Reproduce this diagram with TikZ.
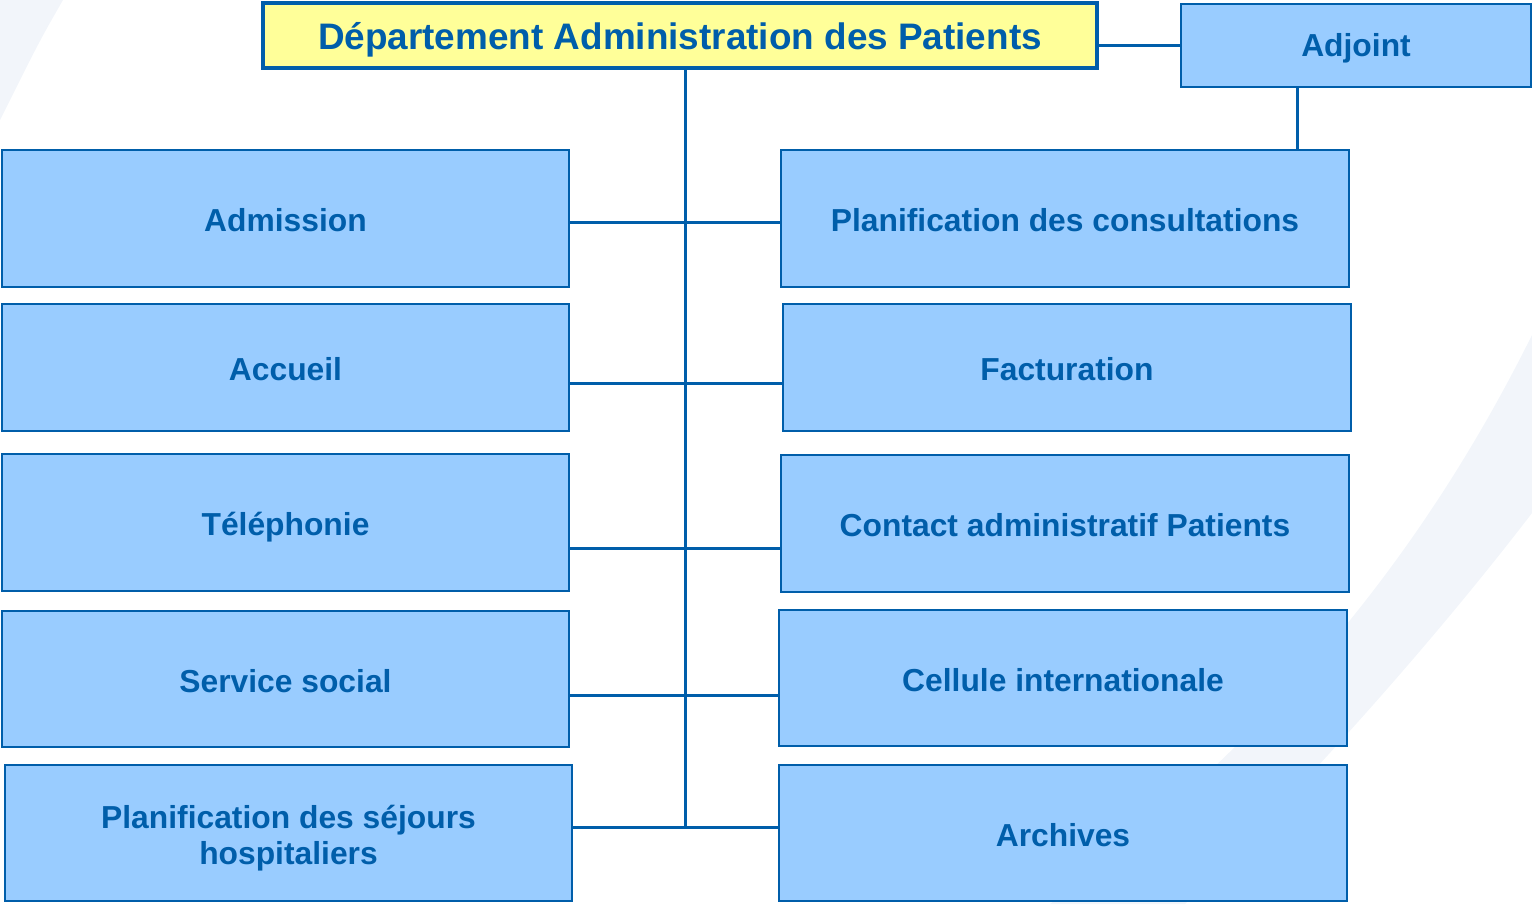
\documentclass[tikz,border=0pt]{standalone}
\usepackage{fontspec}
\setmainfont{Liberation Sans}
\usepackage{tikz}
\definecolor{boxblue}{HTML}{99CCFF}
\definecolor{linkblue}{HTML}{005EAA}
\definecolor{titleyellow}{HTML}{FFFF99}
\definecolor{swoosh}{HTML}{F2F5FA}
\tikzset{
  unit/.style={draw=linkblue, fill=boxblue, line width=0.055cm, inner sep=0pt, outer sep=0pt,
    text=linkblue, font=\fontsize{18.1}{21}\selectfont\bfseries, align=center,
    text height=19.3pt, text depth=4pt},
  head/.style={draw=linkblue, fill=titleyellow, line width=0.09cm, inner sep=0pt, outer sep=0pt,
    text=linkblue, font=\fontsize{21}{24}\selectfont\bfseries,
    text height=21.4pt, text depth=5pt},
  link/.style={draw=linkblue, line width=0.06cm}
}
\begin{document}
\begin{tikzpicture}[x=0.02cm, y=-0.02cm]
\useasboundingbox (0,0) rectangle (1532,904);
% background
\fill [swoosh] (0,0) -- (63,0) .. controls (40,40) .. (0,120) -- cycle;
\fill [swoosh] (1532,335) .. controls (1440,520) and (1300,720) .. (1050,904) -- (1185,904) .. controls (1330,760) and (1450,620) .. (1532,513) -- cycle;
% head
\node [head, minimum width=16.68cm, minimum height=1.30cm] (dept) at (680,35.5) {Département Administration des Patients};
\node [unit, minimum width=7.0cm, minimum height=1.66cm, text height=16pt] (adj) at (1356,45.5) {Adjoint};
% left column
\node [unit, minimum width=11.34cm, minimum height=2.74cm] (adm) at (285.5,218.5) {Admission};
\node [unit, minimum width=11.34cm, minimum height=2.54cm] (acc) at (285.5,367.5) {Accueil};
\node [unit, minimum width=11.34cm, minimum height=2.74cm] (tel) at (285.5,522.5) {Téléphonie};
\node [unit, minimum width=11.34cm, minimum height=2.72cm] (soc) at (285.5,679) {Service social};
\node [unit, minimum width=11.34cm, minimum height=2.72cm, text height=40.3pt] (sej) at (288.5,833) {Planification des séjours\\hospitaliers};
% right column
\node [unit, minimum width=11.36cm, minimum height=2.74cm] (cons) at (1065,218.5) {Planification des consultations};
\node [unit, minimum width=11.36cm, minimum height=2.54cm] (fact) at (1067,367.5) {Facturation};
\node [unit, minimum width=11.36cm, minimum height=2.74cm] (cont) at (1065,523.5) {Contact administratif Patients};
\node [unit, minimum width=11.36cm, minimum height=2.72cm] (cell) at (1063,678) {Cellule internationale};
\node [unit, minimum width=11.36cm, minimum height=2.72cm] (arch) at (1063,833) {Archives};
% links
\coordinate (trunk) at (685,827);
\draw [link] (dept.south -| trunk) -- (trunk);
\draw [link] (dept.east |- 0,45) -- (adj.west |- 0,45);
\draw [link] (adj.south -| 1297,0) -- (cons.north -| 1297,0);
\draw [link] (adm.east |- 0,222) -- (cons.west |- 0,222);
\draw [link] (acc.east |- 0,383) -- (fact.west |- 0,383);
\draw [link] (tel.east |- 0,548) -- (cont.west |- 0,548);
\draw [link] (soc.east |- 0,695) -- (cell.west |- 0,695);
\draw [link] (sej.east |- trunk) -- (arch.west |- trunk);
\end{tikzpicture}
\end{document}
